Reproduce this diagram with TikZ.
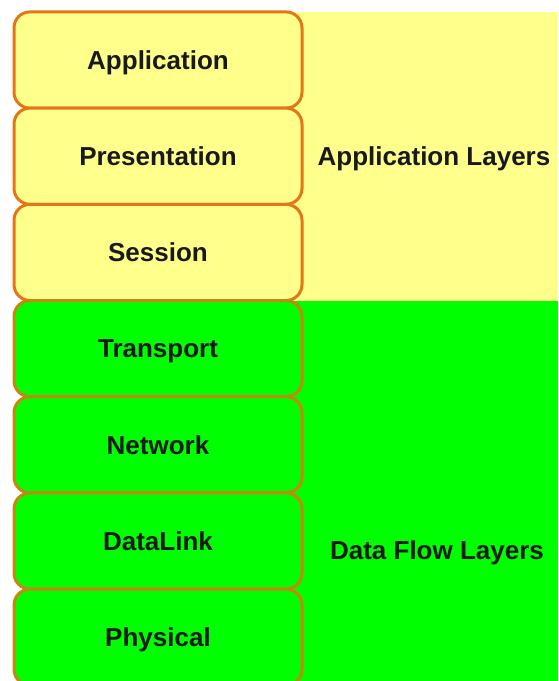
\documentclass[tikz,border=0pt]{standalone}
\usepackage{fontspec}
\setmainfont{Liberation Sans}
\usetikzlibrary{positioning}
\definecolor{appyellow}{RGB}{255,255,140}
\definecolor{flowgreen}{RGB}{0,255,0}
\definecolor{edgeorange}{RGB}{228,118,24}
\definecolor{edgeolive}{RGB}{196,136,16}
\begin{document}
\begin{tikzpicture}[x=1pt,y=-1pt,
    layerbox/.style={rectangle,rounded corners=16pt,line width=3pt,outer sep=0pt,
        minimum width=288pt,minimum height=96.2pt,inner sep=0pt,
        text height=18.6pt,text depth=0pt,
        font=\fontsize{26}{30}\selectfont\bfseries,text=black!90},
    applayer/.style={layerbox,draw=edgeorange,fill=appyellow},
    flowlayer/.style={layerbox,draw=edgeolive,fill=flowgreen},
    grouplabel/.style={text height=18.6pt,text depth=0pt,
        font=\fontsize{26}{30}\selectfont\bfseries,text=black!90}]
    \useasboundingbox (0,0) rectangle (558,681);
    \fill[white] (0,0) rectangle (558,681);
    % the two bands behind the stack
    \fill[appyellow] (290,12) rectangle (558,301);
    \fill[flowgreen] (290,301) rectangle (558,681);
    % the seven layers
    \node[applayer] (app) at (158,60) {Application};
    \node[applayer,below=0pt of app] (pres) {Presentation};
    \node[applayer,below=0pt of pres] (sess) {Session};
    \node[flowlayer,below=0pt of sess] (trans) {Transport};
    \node[flowlayer,below=0pt of trans] (net) {Network};
    \node[flowlayer,below=0pt of net] (link) {DataLink};
    \node[flowlayer,below=0pt of link] (phys) {Physical};
    % group names
    \node[grouplabel] (applbl) at (434,156) {Application Layers};
    \node[grouplabel] (flowlbl) at (437,550) {Data Flow Layers};
\end{tikzpicture}
\end{document}
